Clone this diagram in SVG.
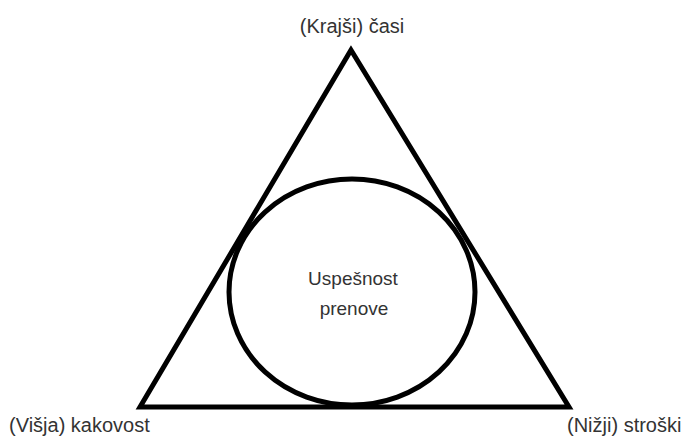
<svg xmlns="http://www.w3.org/2000/svg" width="686" height="439" viewBox="0 0 686 439">
<style>
.s{fill:none;stroke:#000;stroke-width:5;stroke-linejoin:miter}
.t{font-family:"Liberation Sans",Arial,sans-serif;font-size:19px;fill:#333}
.l{font-size:20px}
</style>
<rect width="686" height="439" fill="#fff"/>
<g id="triangle"><polygon class="s" points="351,50 140,407 569,407"/></g>
<g id="circle"><ellipse class="s" cx="352" cy="292" rx="123" ry="113"/>
<text class="t" x="353" y="285" text-anchor="middle">Uspešnost</text>
<text class="t" x="354" y="315" text-anchor="middle">prenove</text></g>
<g id="top"><text class="t l" x="352" y="33" text-anchor="middle">(Krajši) časi</text></g>
<g id="left"><text class="t l" x="9" y="432">(Višja) kakovost</text></g>
<g id="right"><text class="t l" x="567" y="432">(Nižji) stroški</text></g>
</svg>
